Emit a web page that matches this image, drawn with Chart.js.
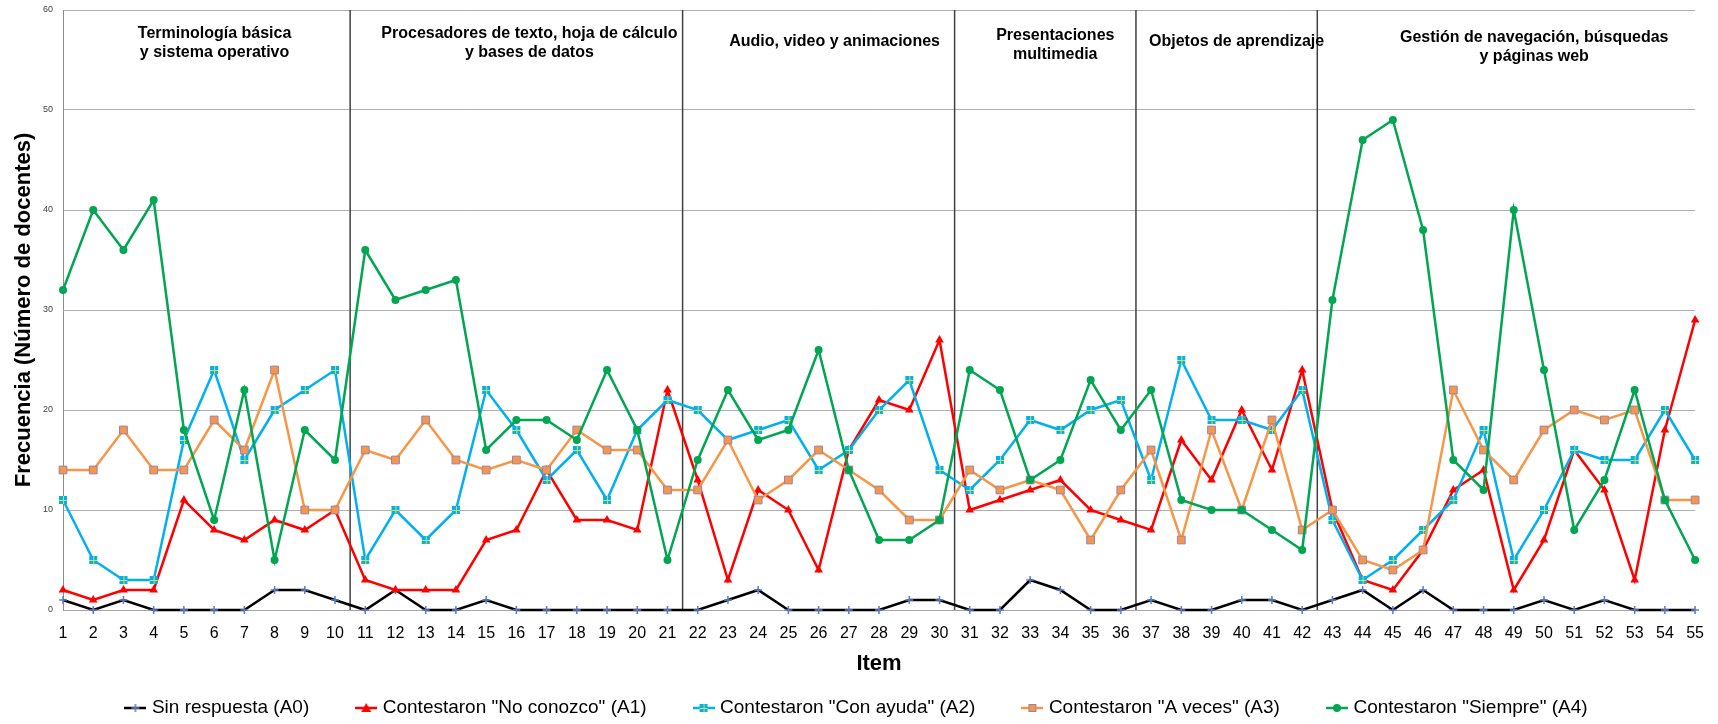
<!DOCTYPE html>
<html>
<head>
<meta charset="utf-8">
<script src="https://cdn.jsdelivr.net/npm/chart.js@4.4.0/dist/chart.umd.min.js"></script>
<style>
  html, body { margin: 0; padding: 0; background: #fff; }
</style>
</head>
<body>
<canvas id="itemChart" width="1718" height="724"></canvas>
<script>
// Frecuencia de respuestas por item

const items = ['1','2','3','4','5','6','7','8','9','10','11','12','13','14','15','16','17','18','19','20',
  '21','22','23','24','25','26','27','28','29','30','31','32','33','34','35','36','37','38','39','40',
  '41','42','43','44','45','46','47','48','49','50','51','52','53','54','55'];

const sinRespuesta = [1,0,1,0,0,0,0,2,2,1, 0,2,0,0,1,0,0,0,0,0,0, 0,1,2,0,0,0,0,1,1,
  0,0,3,2,0,0, 1,0,0,1,1,0, 1,2,0,2,0,0,0,1,0,1,0,0,0];
const noConozco = [2,1,2,2,11,8,7,9,8,10, 3,2,2,2,7,8,14,9,9,8,22, 13,3,12,10,4,16,21,20,27,
  10,11,12,13,10,9, 8,17,13,20,14,24, 10,3,2,6,12,14,2,7,16,12,3,18,29];
const conAyuda = [11,5,3,3,17,24,15,20,22,24, 5,10,7,10,22,18,13,16,11,18,21, 20,17,18,19,14,16,20,23,14,
  12,15,19,18,20,21, 13,25,19,19,18,22, 9,3,5,8,11,18,5,10,16,15,15,20,15];
const aVeces = [14,14,18,14,14,19,16,24,10,10, 16,15,19,15,14,15,14,18,16,16,12, 12,17,11,13,16,14,12,9,9,
  14,12,13,12,7,12, 16,7,18,10,19,8, 10,5,4,6,22,16,13,18,20,19,20,11,11];
const siempre = [32,40,36,41,18,9,22,5,18,15, 36,31,32,33,16,19,19,17,24,18,5, 15,22,17,18,26,14,7,7,9,
  24,22,13,15,23,18, 22,11,10,10,8,6, 31,47,49,38,15,12,40,24,8,13,22,11,5];

const seriesLabels = ['Sin respuesta (A0)', 'Contestaron "No conozco" (A1)', 'Contestaron "Con ayuda" (A2)',
  'Contestaron "A veces" (A3)', 'Contestaron "Siempre" (A4)'];

const sectionTitles = [
  ['Terminología básica', 'y sistema operativo'],
  ['Procesadores de texto, hoja de cálculo', 'y bases de datos'],
  ['Audio, video y animaciones'],
  ['Presentaciones', 'multimedia'],
  ['Objetos de aprendizaje'],
  ['Gestión de navegación, búsquedas', 'y páginas web']
];
// last item of each section
const sectionEnds = ['10', '21', '30', '36', '42', '55'];

const FONT = "'Liberation Sans', Arial, sans-serif";
const colors = { a0: '#000000', a1: '#ff0000', a2: '#00b0f0', a3: '#f79646', a4: '#00a651' };

function makeCanvas(w, h, draw) {
    const c = document.createElement('canvas');
    c.width = w;
    c.height = h;
    draw(c.getContext('2d'), w, h);
    return c;
}

function drawMarker(g, kind, cx, cy) {
    if (kind === 'cross') {
        g.strokeStyle = '#5b7cc4';
        g.lineWidth = 1.5;
        g.beginPath();
        g.moveTo(cx - 4, cy); g.lineTo(cx + 4, cy);
        g.moveTo(cx, cy - 4); g.lineTo(cx, cy + 4);
        g.stroke();
    } else if (kind === 'triangle') {
        g.fillStyle = colors.a1;
        g.beginPath();
        g.moveTo(cx, cy - 5); g.lineTo(cx + 5, cy + 4); g.lineTo(cx - 5, cy + 4);
        g.closePath();
        g.fill();
    } else if (kind === 'plusSquare') {
        g.fillStyle = colors.a2;
        g.fillRect(cx - 4, cy - 4, 8, 8);
        g.strokeStyle = '#d6e040';
        g.lineWidth = 1;
        g.beginPath();
        g.moveTo(cx - 4, cy + 0.5); g.lineTo(cx + 4, cy + 0.5);
        g.moveTo(cx + 0.5, cy - 4); g.lineTo(cx + 0.5, cy + 4);
        g.stroke();
    } else if (kind === 'square') {
        g.fillStyle = colors.a3;
        g.fillRect(cx - 4, cy - 4, 8, 8);
        g.strokeStyle = '#9484b4';
        g.lineWidth = 1;
        g.strokeRect(cx - 3.5, cy - 3.5, 7, 7);
    } else {
        g.fillStyle = colors.a4;
        g.beginPath();
        g.arc(cx, cy, 4, 0, Math.PI * 2);
        g.fill();
    }
}

const markerKinds = ['cross', 'triangle', 'plusSquare', 'square', 'circle'];
const lineColors = [colors.a0, colors.a1, colors.a2, colors.a3, colors.a4];

const blueMarker = makeCanvas(10, 10, (g) => drawMarker(g, 'plusSquare', 5, 5));
const legendIcons = markerKinds.map((kind, i) => makeCanvas(22, 12, (g, w, h) => {
    g.strokeStyle = lineColors[i];
    g.lineWidth = 2.5;
    g.beginPath();
    g.moveTo(0, h / 2); g.lineTo(w, h / 2);
    g.stroke();
    drawMarker(g, kind, w / 2, h / 2);
}));

// title placement tweaks (px): horizontal shift and first-line y
const titleDx = [8, 13, 16, 10, 10, 28];
const titleY = [34, 34, 42, 36, 42, 38];

const sectionPlugin = {
    id: 'sections',
    beforeDatasetsDraw(chart) {
        const { ctx, chartArea, scales: { x } } = chart;
        ctx.save();
        ctx.strokeStyle = '#404040';
        ctx.lineWidth = 1.5;
        sectionEnds.slice(0, -1).forEach((end) => {
            const i = items.indexOf(end);
            const px = (x.getPixelForValue(i) + x.getPixelForValue(i + 1)) / 2;
            ctx.beginPath();
            ctx.moveTo(px, chartArea.top);
            ctx.lineTo(px, chartArea.bottom);
            ctx.stroke();
        });
        ctx.restore();
    },
    afterDraw(chart) {
        const { ctx, chartArea, scales: { x } } = chart;
        ctx.save();
        ctx.font = 'bold 16px ' + FONT;
        ctx.fillStyle = '#000';
        ctx.textAlign = 'center';
        ctx.textBaseline = 'middle';
        let left = chartArea.left;
        sectionEnds.forEach((end, s) => {
            const i = items.indexOf(end);
            const right = i < items.length - 1
                ? (x.getPixelForValue(i) + x.getPixelForValue(i + 1)) / 2
                : chartArea.right;
            const cx = (left + right) / 2 + titleDx[s];
            sectionTitles[s].forEach((t, k) => ctx.fillText(t, cx, titleY[s] + k * 19));
            left = right;
        });
        ctx.restore();
    }
};

function lineSet(idx, data, extra) {
    return Object.assign({
        label: seriesLabels[idx],
        data: data,
        borderColor: lineColors[idx],
        backgroundColor: lineColors[idx],
        borderWidth: 2.5,
        tension: 0,
        clip: false,
        order: 5 - idx
    }, extra);
}

const ctx = document.getElementById('itemChart').getContext('2d');
new Chart(ctx, {
    type: 'line',
    data: {
        labels: items,
        datasets: [
            lineSet(0, sinRespuesta, { pointStyle: 'cross', pointRadius: 4, pointBorderColor: '#5b7cc4', pointBorderWidth: 1.5 }),
            lineSet(1, noConozco, { pointStyle: 'triangle', pointRadius: 5, pointBorderWidth: 0 }),
            lineSet(2, conAyuda, { pointStyle: blueMarker, pointRadius: 5 }),
            lineSet(3, aVeces, { pointStyle: 'rect', pointRadius: 5.5, pointBackgroundColor: colors.a3, pointBorderColor: '#9484b4', pointBorderWidth: 1 }),
            lineSet(4, siempre, { pointStyle: 'circle', pointRadius: 4, pointBorderWidth: 0 })
        ]
    },
    options: {
        responsive: false,
        animation: false,
        devicePixelRatio: 1,
        layout: { padding: { top: 10, right: 2, bottom: -3.5, left: 0 } },
        plugins: {
            tooltip: { enabled: false },
            legend: {
                position: 'bottom',
                labels: {
                    usePointStyle: true,
                    pointStyleWidth: 14,
                    padding: 50,
                    color: '#000',
                    font: { family: FONT, size: 19 },
                    sort: (a, b) => a.datasetIndex - b.datasetIndex,
                    generateLabels: (chart) => chart.data.datasets.map((ds, i) => ({
                        text: ds.label,
                        pointStyle: legendIcons[i],
                        fillStyle: ds.borderColor,
                        strokeStyle: ds.borderColor,
                        lineWidth: 0,
                        hidden: false,
                        datasetIndex: i,
                        fontColor: '#000'
                    }))
                }
            }
        },
        scales: {
            x: {
                grid: { display: false, drawTicks: false },
                border: { display: true, color: '#a6a6a6', width: 1 },
                ticks: {
                    autoSkip: false, maxRotation: 0, padding: 14, color: '#000',
                    font: { family: FONT, size: 16 }
                },
                title: {
                    display: true, text: 'Item', color: '#000',
                    font: { family: FONT, size: 22, weight: 'bold' },
                    padding: { top: 0, bottom: -28.7 }
                },
                afterFit: (scale) => { scale.height = 38.5; }
            },
            y: {
                min: 0,
                max: 60,
                grid: { color: '#b0b0b0', lineWidth: 1, drawTicks: true, tickLength: 8, tickColor: 'rgba(0,0,0,0)' },
                border: { display: true, color: '#8c8c8c', width: 1 },
                ticks: {
                    stepSize: 10, padding: 2, color: '#404040',
                    font: { family: FONT, size: 9 }
                },
                title: {
                    display: true, text: 'Frecuencia (Número de docentes)', color: '#000',
                    font: { family: FONT, size: 22, weight: 'bold' },
                    padding: { top: 11, bottom: 0 }
                },
                afterFit: (scale) => { scale.width = 63; }
            }
        }
    },
    plugins: [sectionPlugin]
});
</script>
</body>
</html>
